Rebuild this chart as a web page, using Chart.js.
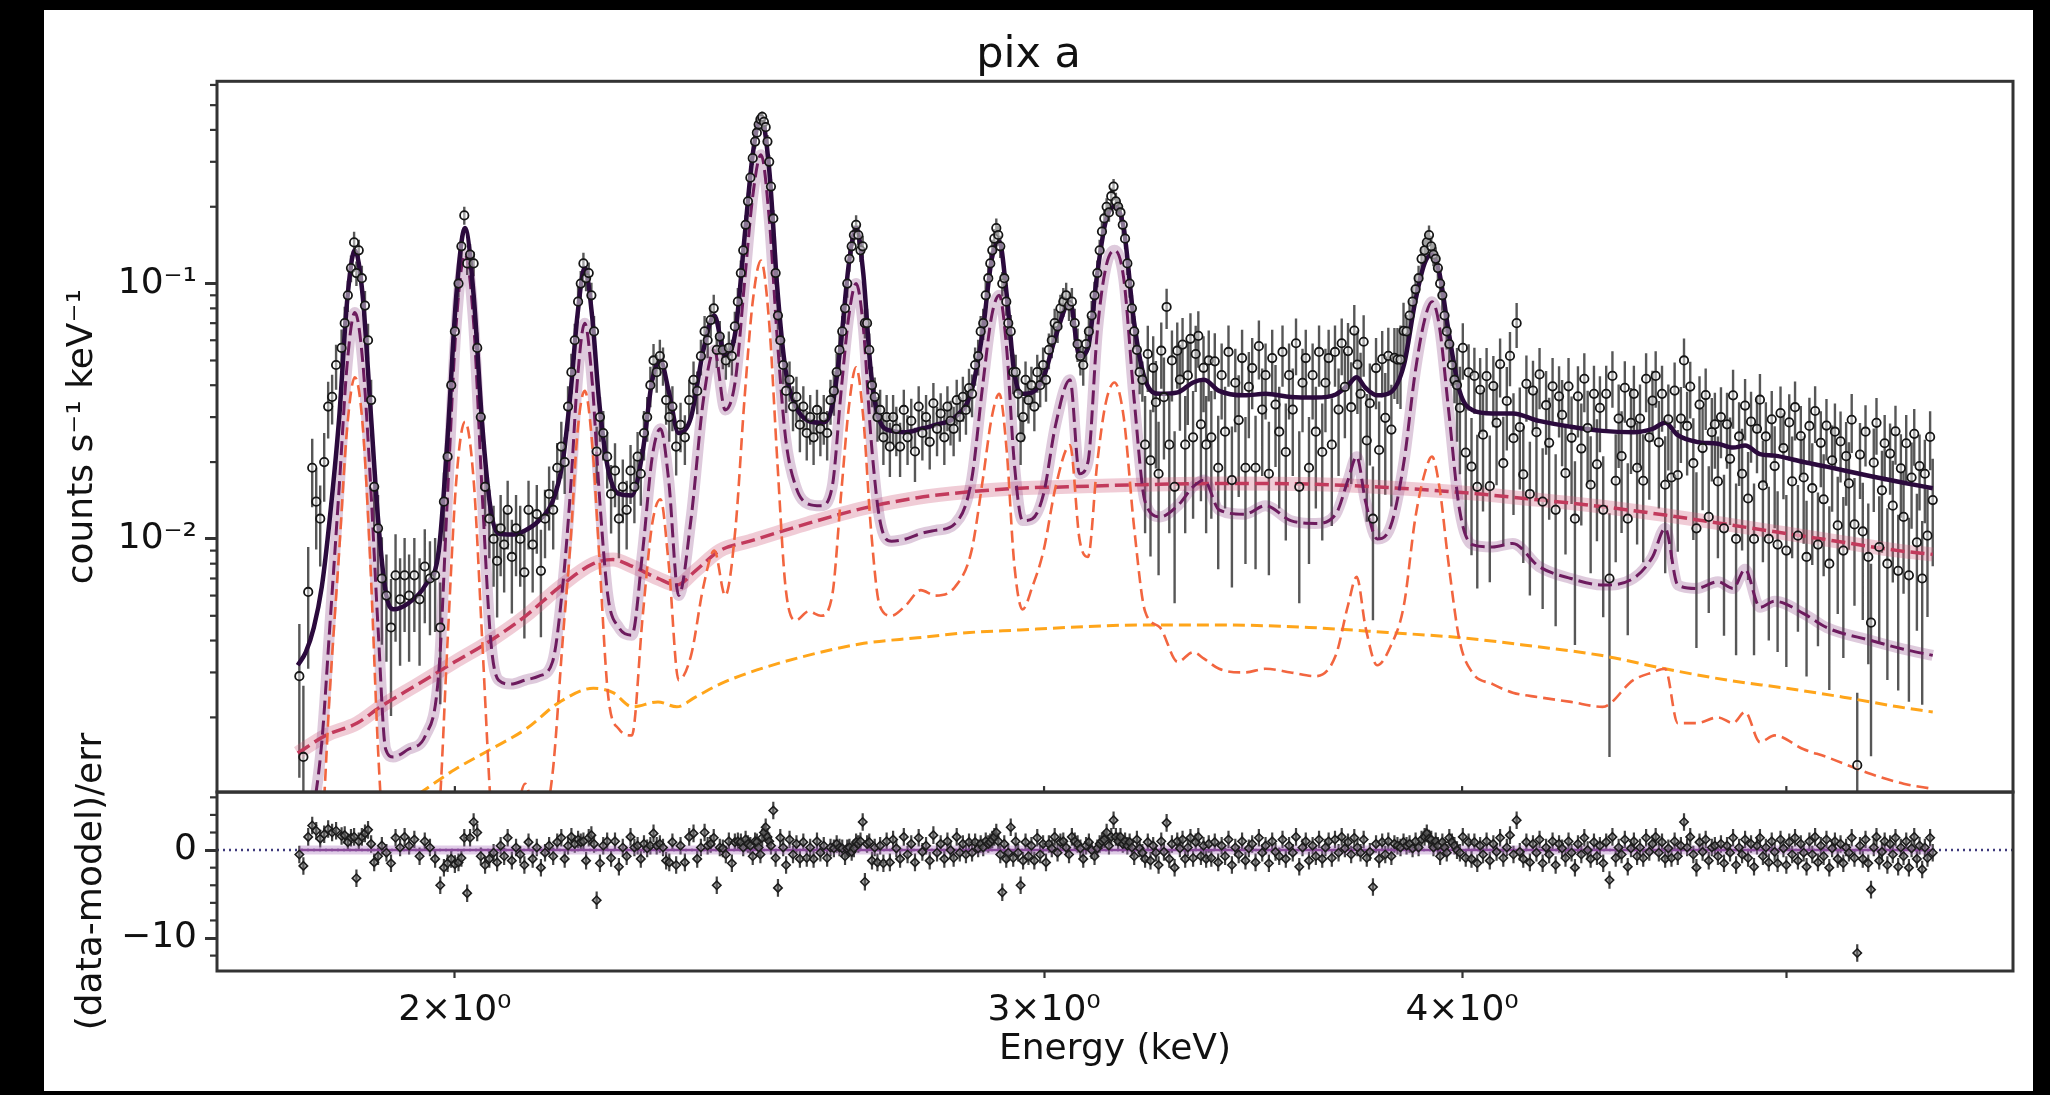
<!DOCTYPE html>
<html>
<head>
<meta charset="utf-8">
<script src="https://cdn.jsdelivr.net/npm/chart.js@4.4.1/dist/chart.umd.min.js"></script>
<style>
  html, body { margin: 0; padding: 0; background: #000; }
  body { width: 2050px; height: 1095px; position: relative; overflow: hidden; }
  #sheet { position: absolute; left: 44px; top: 10px; width: 1989px; height: 1081px; background: #fff; }
  canvas { display: block; }
</style>
</head>
<body>
<div id="sheet"><canvas id="spec" width="1989" height="1081"></canvas></div>
<script>
// axis limits (keV, counts s^-1 keV^-1, sigma)
const xMin = 1.698, xMax = 5.844;
const yMin = 0.00102, yMax = 0.62;
const resMin = -13.75, resMax = 6.6;

const xTickValues = [2, 3, 4, 5];
const xTickLabels = ['2×10⁰', '3×10⁰', '4×10⁰', ''];
const yTickValues = [0.002, 0.003, 0.004, 0.005, 0.006, 0.007, 0.008, 0.009, 0.01,
  0.02, 0.03, 0.04, 0.05, 0.06, 0.07, 0.08, 0.09, 0.1, 0.2, 0.3, 0.4, 0.5, 0.6];
const yMajorTicks = [0.01, 0.1];
const yMajorLabels = ['10⁻²', '10⁻¹'];
const resTickValues = [-12, -10, -8, -6, -4, -2, 0, 2, 4, 6];
const resMajorTicks = [-10, 0];
const resMajorLabels = ['−10', '0'];

// fitted model: total, line-rich plasma (purple), second plasma lines (orange-red)
const modelEnergy = [1.795, 1.805, 1.815, 1.825, 1.835, 1.847, 1.857, 1.867, 1.877, 1.887,
  1.897, 1.907, 1.917, 1.937, 1.960, 1.978, 1.990, 2.002, 2.014, 2.026,
  2.038, 2.050, 2.061, 2.079, 2.099, 2.119, 2.139, 2.154, 2.166, 2.176,
  2.187, 2.198, 2.209, 2.222, 2.239, 2.259, 2.276, 2.291, 2.304, 2.317,
  2.333, 2.353, 2.373, 2.391, 2.409, 2.426, 2.441, 2.455, 2.469, 2.483,
  2.497, 2.511, 2.529, 2.551, 2.573, 2.593, 2.609, 2.623, 2.636, 2.649,
  2.663, 2.679, 2.701, 2.728, 2.756, 2.784, 2.822, 2.854, 2.876, 2.894,
  2.909, 2.924, 2.939, 2.956, 2.976, 2.999, 3.024, 3.054, 3.074, 3.092,
  3.112, 3.130, 3.149, 3.169, 3.192, 3.216, 3.249, 3.289, 3.324, 3.349,
  3.384, 3.444, 3.494, 3.555, 3.616, 3.667, 3.698, 3.720, 3.743, 3.773,
  3.808, 3.843, 3.873, 3.898, 3.918, 3.938, 3.963, 3.993, 4.028, 4.085,
  4.142, 4.217, 4.311, 4.406, 4.5, 4.56, 4.6, 4.64, 4.7, 4.77,
  4.82, 4.86, 4.91, 4.96, 5.06, 5.14, 5.3, 5.42, 5.53];
const modelTotal = [0.0032, 0.0036, 0.0045, 0.0065, 0.012, 0.03, 0.085, 0.135, 0.09, 0.033,
  0.012, 0.0062, 0.0053, 0.0056, 0.0066, 0.009, 0.025, 0.09, 0.165, 0.09,
  0.028, 0.013, 0.0105, 0.0104, 0.0108, 0.0118, 0.014, 0.02, 0.038, 0.075,
  0.115, 0.075, 0.034, 0.019, 0.015, 0.0148, 0.022, 0.042, 0.05, 0.038,
  0.026, 0.03, 0.055, 0.075, 0.052, 0.065, 0.15, 0.32, 0.45, 0.28,
  0.095, 0.046, 0.033, 0.029, 0.0285, 0.033, 0.06, 0.12, 0.165, 0.11,
  0.045, 0.029, 0.0265, 0.0262, 0.027, 0.028, 0.03, 0.038, 0.065, 0.125,
  0.146, 0.09, 0.045, 0.037, 0.0375, 0.043, 0.062, 0.085, 0.052, 0.056,
  0.11, 0.175, 0.2, 0.165, 0.07, 0.042, 0.037, 0.0375, 0.041, 0.042,
  0.038, 0.0365, 0.037, 0.036, 0.0358, 0.0368, 0.04, 0.043, 0.039, 0.0365,
  0.0375, 0.048, 0.085, 0.12, 0.13, 0.11, 0.065, 0.038, 0.032, 0.031,
  0.031, 0.029, 0.0275, 0.0265, 0.0262, 0.027, 0.0285, 0.0255, 0.024, 0.0236,
  0.0228, 0.0232, 0.0215, 0.0212, 0.02, 0.0192, 0.0176, 0.0166, 0.0158];
const compPurple = [0.0006, 0.0007, 0.0009, 0.0016, 0.0045, 0.016, 0.048, 0.077, 0.05, 0.017,
  0.0045, 0.0015, 0.0014, 0.0015, 0.0017, 0.003, 0.015, 0.07, 0.13, 0.07,
  0.015, 0.004, 0.0028, 0.0027, 0.0028, 0.0029, 0.0033, 0.0065, 0.016, 0.042,
  0.07, 0.042, 0.015, 0.006, 0.0045, 0.0042, 0.009, 0.021, 0.027, 0.017,
  0.006, 0.012, 0.035, 0.055, 0.032, 0.042, 0.1, 0.22, 0.32, 0.18,
  0.06, 0.025, 0.016, 0.0137, 0.0135, 0.016, 0.038, 0.075, 0.1, 0.068,
  0.025, 0.012, 0.0098, 0.01, 0.0105, 0.0108, 0.0115, 0.017, 0.04, 0.075,
  0.09, 0.055, 0.02, 0.0118, 0.012, 0.015, 0.028, 0.042, 0.018, 0.02,
  0.065, 0.115, 0.135, 0.105, 0.035, 0.014, 0.0122, 0.0135, 0.016, 0.017,
  0.013, 0.0125, 0.0135, 0.0118, 0.0115, 0.0125, 0.017, 0.021, 0.014, 0.01,
  0.0112, 0.02, 0.045, 0.072, 0.085, 0.068, 0.032, 0.013, 0.0095, 0.0093,
  0.0096, 0.0078, 0.007, 0.0066, 0.007, 0.0085, 0.011, 0.0066, 0.0064, 0.0068,
  0.0064, 0.0076, 0.0054, 0.0057, 0.0051, 0.0045, 0.004, 0.0037, 0.0035];
const compLines = [0.0004, 0.0004, 0.0005, 0.0007, 0.0025, 0.009, 0.027, 0.043, 0.028, 0.008,
  0.0015, 0.0005, 0.0003, 0.0003, 0.0004, 0.0008, 0.004, 0.017, 0.0288, 0.017,
  0.004, 0.0009, 0.0004, 0.0006, 0.0011, 0.0007, 0.0012, 0.004, 0.01, 0.026,
  0.038, 0.024, 0.0085, 0.0025, 0.0018, 0.0017, 0.005, 0.0115, 0.0143, 0.008,
  0.0028, 0.0035, 0.0065, 0.009, 0.006, 0.011, 0.035, 0.085, 0.123, 0.07,
  0.02, 0.0065, 0.0048, 0.0052, 0.005, 0.006, 0.015, 0.033, 0.047, 0.03,
  0.011, 0.0055, 0.005, 0.0055, 0.0063, 0.006, 0.0065, 0.009, 0.017, 0.03,
  0.037, 0.022, 0.008, 0.0053, 0.0065, 0.009, 0.016, 0.0233, 0.01, 0.0085,
  0.02, 0.034, 0.041, 0.03, 0.011, 0.0052, 0.0045, 0.0033, 0.0036, 0.0034,
  0.0031, 0.003, 0.0031, 0.003, 0.0029, 0.0035, 0.0055, 0.0071, 0.0045, 0.0032,
  0.0038, 0.0055, 0.012, 0.018, 0.021, 0.016, 0.008, 0.004, 0.003, 0.0027,
  0.0025, 0.0024, 0.0023, 0.0022, 0.0028, 0.003, 0.0031, 0.0019, 0.0019, 0.002,
  0.0019, 0.0021, 0.0016, 0.0017, 0.0015, 0.0014, 0.0012, 0.0011, 0.00105];

// smooth continuum components
const contEnergy = [1.795, 1.83, 1.87, 1.9, 1.95, 2.0, 2.05, 2.1, 2.15, 2.2,
  2.23, 2.26, 2.3, 2.33, 2.36, 2.4, 2.45, 2.55, 2.65, 2.75,
  2.85, 2.95, 3.05, 3.2, 3.4, 3.6, 3.8, 4.0, 4.2, 4.4,
  4.6, 4.8, 5.0, 5.2, 5.4, 5.53];
const compRed = [0.00145, 0.0017, 0.0019, 0.0022, 0.0027, 0.0033, 0.004, 0.005, 0.0065, 0.008,
  0.0083, 0.0078, 0.007, 0.0066, 0.0075, 0.009, 0.0098, 0.0115, 0.0132, 0.0145,
  0.0153, 0.0158, 0.016, 0.0163, 0.0165, 0.0164, 0.0159, 0.0152, 0.0143, 0.0134,
  0.0124, 0.0114, 0.0105, 0.0097, 0.009, 0.0087];
const compGold = [0.0005, 0.0006, 0.0007, 0.0008, 0.001, 0.00125, 0.0015, 0.0018, 0.0023, 0.0026,
  0.0025, 0.0022, 0.0023, 0.0022, 0.0024, 0.0027, 0.003, 0.0035, 0.0039, 0.0041,
  0.0043, 0.0044, 0.0045, 0.0046, 0.0046, 0.0045, 0.0043, 0.0041, 0.0038, 0.0035,
  0.0031, 0.0028, 0.0026, 0.0024, 0.0022, 0.0021];

// observed spectrum
const dataEnergy = [
  1.797, 1.802, 1.808, 1.813, 1.818, 1.823, 1.828, 1.833, 1.838, 1.843, 1.850, 1.854, 1.858, 1.862, 1.866, 1.869, 1.872, 1.876, 1.880, 1.884, 1.888, 1.892, 1.897, 1.902,
  1.908, 1.914, 1.920, 1.926, 1.932, 1.938, 1.945, 1.952, 1.959, 1.966, 1.973, 1.980, 1.985, 1.990, 1.995, 2.000, 2.005, 2.009, 2.013, 2.017, 2.021, 2.026, 2.031, 2.036, 2.042, 2.048, 2.054,
  2.059, 2.064, 2.069, 2.074, 2.080, 2.086, 2.092, 2.098, 2.104, 2.110, 2.116, 2.122, 2.128, 2.134, 2.140, 2.146, 2.152, 2.157, 2.162, 2.167, 2.172, 2.177, 2.181, 2.185, 2.189, 2.193, 2.197, 2.201, 2.205,
  2.210, 2.215, 2.221, 2.227, 2.233, 2.239, 2.245, 2.251, 2.257, 2.263, 2.268, 2.273, 2.278, 2.283, 2.288, 2.293, 2.298, 2.303, 2.308, 2.313, 2.318, 2.323, 2.329, 2.336, 2.343, 2.350, 2.357, 2.363, 2.369, 2.375, 2.380, 2.385, 2.390, 2.395, 2.400, 2.405, 2.410, 2.415,
  2.420, 2.425, 2.430, 2.435, 2.439, 2.443, 2.447, 2.451, 2.455, 2.459, 2.462, 2.465, 2.468, 2.471, 2.474, 2.477, 2.480, 2.483, 2.486, 2.490, 2.494, 2.498, 2.502, 2.507, 2.512,
  2.518, 2.524, 2.530, 2.536, 2.542, 2.548, 2.554, 2.560, 2.566, 2.572, 2.578, 2.584, 2.590, 2.596, 2.601, 2.606, 2.611, 2.616, 2.620, 2.624, 2.628, 2.632, 2.636, 2.640, 2.644, 2.648, 2.652, 2.656, 2.660, 2.665, 2.670, 2.675, 2.680,
  2.686, 2.692, 2.698, 2.704, 2.710, 2.717, 2.724, 2.731, 2.738, 2.745, 2.752, 2.759, 2.766, 2.773, 2.780, 2.787, 2.794, 2.801, 2.807, 2.813, 2.819, 2.825, 2.831, 2.837, 2.843, 2.849, 2.855,
  2.861, 2.867, 2.872, 2.877, 2.882, 2.887, 2.891, 2.895, 2.899, 2.903, 2.907, 2.911, 2.915, 2.919, 2.923, 2.927, 2.932, 2.937, 2.942, 2.947, 2.952, 2.957, 2.962, 2.968, 2.974, 2.980, 2.986, 2.992, 2.998, 3.004, 3.010,
  3.016, 3.022, 3.028, 3.034, 3.040, 3.046, 3.052, 3.058, 3.064, 3.070, 3.076, 3.082, 3.088, 3.094, 3.100, 3.106, 3.112, 3.117, 3.122, 3.127, 3.132, 3.137, 3.142, 3.147, 3.152, 3.157, 3.162, 3.167, 3.172, 3.177, 3.182, 3.187, 3.192, 3.198, 3.204, 3.210,
  3.216, 3.222, 3.228, 3.234, 3.240, 3.246, 3.252, 3.258, 3.264, 3.270, 3.276, 3.282, 3.288, 3.294, 3.300, 3.306, 3.312, 3.318, 3.324, 3.330, 3.336, 3.342, 3.348, 3.354, 3.360, 3.366,
  3.374, 3.382, 3.390, 3.398, 3.406, 3.414, 3.422, 3.430, 3.438, 3.446, 3.454, 3.462, 3.470, 3.478, 3.486, 3.494, 3.502, 3.510, 3.518, 3.527,
  3.535, 3.543, 3.551, 3.560, 3.568, 3.576, 3.584, 3.592, 3.600, 3.609, 3.617, 3.625, 3.633, 3.641, 3.649, 3.657, 3.665, 3.674, 3.682, 3.690,
  3.698, 3.706, 3.714, 3.722, 3.730, 3.738, 3.746, 3.754, 3.762, 3.770, 3.778, 3.786, 3.794, 3.802, 3.810, 3.818, 3.826, 3.834, 3.842,
  3.850, 3.858, 3.866, 3.874, 3.882, 3.890, 3.898, 3.904, 3.910, 3.916, 3.922, 3.928, 3.934, 3.940, 3.946, 3.952, 3.958, 3.965, 3.972, 3.979,
  3.986, 3.994, 4.002, 4.010, 4.018, 4.026, 4.034, 4.042, 4.050, 4.058,
  4.068, 4.077, 4.087, 4.096, 4.106, 4.115, 4.125, 4.134, 4.144, 4.153,
  4.162, 4.172, 4.181, 4.191, 4.200, 4.210, 4.219, 4.228, 4.238, 4.247,
  4.257, 4.266, 4.276, 4.285, 4.295, 4.304, 4.313, 4.323, 4.332, 4.342,
  4.351, 4.361, 4.370, 4.380, 4.389, 4.398, 4.408, 4.417, 4.427, 4.436,
  4.446, 4.455, 4.464, 4.474, 4.483, 4.493, 4.502, 4.512, 4.521, 4.531,
  4.54, 4.55, 4.56, 4.57, 4.58, 4.59, 4.60, 4.61, 4.62, 4.63,
  4.64, 4.65, 4.66, 4.67, 4.68, 4.69, 4.70, 4.71, 4.72, 4.73,
  4.74, 4.75, 4.76, 4.77, 4.78, 4.79, 4.80, 4.81, 4.82, 4.83,
  4.84, 4.85, 4.86, 4.87, 4.88, 4.89, 4.90, 4.91, 4.92, 4.93,
  4.94, 4.95, 4.96, 4.97, 4.98, 4.99, 5.00, 5.01, 5.02, 5.03,
  5.04, 5.05, 5.06, 5.07, 5.08, 5.09, 5.10, 5.11, 5.12, 5.13,
  5.14, 5.15, 5.16, 5.17, 5.18, 5.19, 5.20, 5.21, 5.22, 5.23,
  5.24, 5.25, 5.26, 5.27, 5.28, 5.29, 5.30, 5.31, 5.32, 5.33,
  5.34, 5.35, 5.36, 5.37, 5.38, 5.39, 5.40, 5.41, 5.42, 5.43,
  5.44, 5.45, 5.46, 5.47, 5.48, 5.49, 5.50, 5.51, 5.52, 5.53];
const dataCounts = [
  0.0029, 0.0014, 0.0062, 0.019, 0.014, 0.012, 0.02, 0.033, 0.036, 0.048, 0.056, 0.07, 0.09, 0.115, 0.145, 0.11, 0.135, 0.105, 0.082, 0.06, 0.035, 0.016, 0.011, 0.007,
  0.006, 0.0045, 0.0072, 0.0058, 0.0072, 0.006, 0.0072, 0.0058, 0.0078, 0.007, 0.0072, 0.0045, 0.014, 0.021, 0.04, 0.065, 0.1, 0.14, 0.185, 0.12, 0.13, 0.12, 0.056, 0.03, 0.016, 0.012, 0.01,
  0.0082, 0.011, 0.0095, 0.013, 0.0085, 0.011, 0.01, 0.0074, 0.013, 0.0095, 0.0125, 0.0075, 0.012, 0.015, 0.013, 0.019, 0.023, 0.02, 0.033, 0.045, 0.06, 0.085, 0.1, 0.12, 0.105, 0.11, 0.09, 0.065, 0.022,
  0.03, 0.026, 0.021, 0.015, 0.0185, 0.012, 0.016, 0.013, 0.0185, 0.016, 0.021, 0.018, 0.026, 0.03, 0.04, 0.05, 0.045, 0.052, 0.048, 0.035, 0.03, 0.033, 0.023, 0.028, 0.025, 0.035, 0.042, 0.038, 0.052, 0.065, 0.06, 0.072, 0.08, 0.055, 0.062, 0.055, 0.05, 0.056,
  0.052, 0.068, 0.085, 0.11, 0.135, 0.17, 0.21, 0.26, 0.31, 0.36, 0.39, 0.42, 0.44, 0.45, 0.43, 0.41, 0.36, 0.3, 0.24, 0.18, 0.11, 0.075, 0.06, 0.048, 0.038,
  0.042, 0.033, 0.036, 0.028, 0.033, 0.026, 0.03, 0.025, 0.032, 0.027, 0.03, 0.026, 0.035, 0.038, 0.045, 0.055, 0.065, 0.08, 0.1, 0.125, 0.14, 0.155, 0.17, 0.155, 0.135, 0.14, 0.07, 0.07, 0.055, 0.04, 0.036, 0.03, 0.032,
  0.025, 0.03, 0.023, 0.03, 0.027, 0.023, 0.032, 0.025, 0.029, 0.022, 0.033, 0.026, 0.03, 0.024, 0.034, 0.027, 0.031, 0.025, 0.033, 0.029, 0.027, 0.035, 0.03, 0.036, 0.032, 0.039, 0.037,
  0.048, 0.052, 0.065, 0.07, 0.09, 0.105, 0.12, 0.135, 0.15, 0.165, 0.155, 0.14, 0.1, 0.105, 0.085, 0.07, 0.065, 0.045, 0.045, 0.037, 0.025, 0.03, 0.042, 0.035, 0.04, 0.033, 0.045, 0.04, 0.048, 0.042, 0.055,
  0.06, 0.07, 0.068, 0.08, 0.085, 0.09, 0.082, 0.085, 0.07, 0.058, 0.052, 0.048, 0.058, 0.065, 0.075, 0.09, 0.11, 0.135, 0.16, 0.18, 0.2, 0.19, 0.22, 0.24, 0.21, 0.2, 0.19, 0.17, 0.15, 0.12, 0.1, 0.08, 0.065, 0.055, 0.045, 0.042,
  0.0234, 0.053, 0.0203, 0.0468, 0.0343, 0.018, 0.0546, 0.0359, 0.081, 0.0234, 0.05, 0.016, 0.0546, 0.0421, 0.0577, 0.0234, 0.0437, 0.0608, 0.025, 0.053, 0.0624, 0.0281, 0.0468, 0.0234, 0.05, 0.025,
  0.0496, 0.019, 0.0438, 0.0263, 0.054, 0.017, 0.0409, 0.0292, 0.0511, 0.019, 0.0394, 0.0467, 0.019, 0.0569, 0.0321, 0.0438, 0.018, 0.0511, 0.0336, 0.0263,
  0.054, 0.0219, 0.0438, 0.0321, 0.0584, 0.016, 0.0409, 0.0511, 0.019, 0.0438, 0.0263, 0.054, 0.0219, 0.0409, 0.0511, 0.0234, 0.054, 0.0321, 0.0584, 0.0394,
  0.0544, 0.0328, 0.0655, 0.0482, 0.037, 0.0592, 0.0243, 0.034, 0.012, 0.0467, 0.0223, 0.0506, 0.0298, 0.0521, 0.0268, 0.0512, 0.0504, 0.0504, 0.0653,
  0.065, 0.075, 0.085, 0.095, 0.105, 0.125, 0.135, 0.145, 0.155, 0.14, 0.13, 0.125, 0.115, 0.1, 0.09, 0.075, 0.065, 0.058, 0.048, 0.042,
  0.04, 0.0326, 0.056, 0.0218, 0.0449, 0.0192, 0.0435, 0.016, 0.0384, 0.0256,
  0.0434, 0.0161, 0.0397, 0.0285, 0.0484, 0.0198, 0.0347, 0.0521, 0.0248, 0.07,
  0.0274, 0.0179, 0.0405, 0.015, 0.0381, 0.0262, 0.0441, 0.014, 0.0334, 0.0238,
  0.0396, 0.013, 0.0362, 0.0306, 0.0181, 0.0396, 0.0249, 0.012, 0.0362, 0.0226,
  0.0424, 0.0272, 0.0163, 0.037, 0.0196, 0.0326, 0.013, 0.037, 0.007, 0.0435,
  0.0169, 0.0296, 0.0211, 0.0391, 0.012, 0.0285, 0.037, 0.019, 0.0296, 0.0169,
  0.0424, 0.025, 0.0348, 0.0435, 0.0239, 0.037, 0.0163, 0.0294, 0.0174, 0.0381,
  0.0178, 0.0296, 0.05, 0.0277, 0.0395, 0.0198, 0.011, 0.0336, 0.0227, 0.0366,
  0.0122, 0.0262, 0.0281, 0.0168, 0.03, 0.011, 0.0281, 0.0206, 0.0365, 0.010,
  0.0252, 0.018, 0.0333, 0.0144, 0.0288, 0.010, 0.027, 0.0351, 0.0162, 0.0252,
  0.010, 0.0294, 0.0193, 0.0095, 0.0311, 0.0227, 0.009, 0.0286, 0.0168, 0.0328,
  0.0103, 0.0253, 0.0174, 0.0085, 0.0277, 0.0158, 0.0317, 0.0095, 0.0238, 0.0143,
  0.0278, 0.008, 0.0203, 0.0263, 0.0113, 0.0241, 0.009, 0.0211, 0.0165, 0.0293,
  0.0114, 0.0013, 0.0214, 0.0107, 0.0263, 0.0085, 0.0047, 0.0199, 0.0285, 0.0093,
  0.0155, 0.0237, 0.008, 0.0216, 0.0135, 0.0264, 0.0075, 0.0189, 0.0122, 0.0237,
  0.0072, 0.0174, 0.0258, 0.0097, 0.0193, 0.007, 0.018, 0.0103, 0.0251, 0.0142];
// fractional 1-sigma error of each bin
const dataErr = [
  0.6, 0.9, 0.5, 0.3, 0.35, 0.35, 0.3, 0.25, 0.22, 0.2, 0.18, 0.16, 0.14, 0.12, 0.1, 0.11, 0.1, 0.12, 0.14, 0.16, 0.2, 0.3, 0.35, 0.45,
  0.45, 0.55, 0.45, 0.45, 0.4, 0.45, 0.4, 0.45, 0.4, 0.4, 0.4, 0.5, 0.3, 0.25, 0.2, 0.16, 0.12, 0.1, 0.08, 0.1, 0.1, 0.11, 0.15, 0.2, 0.3, 0.3, 0.35,
  0.4, 0.35, 0.35, 0.3, 0.4, 0.35, 0.35, 0.45, 0.3, 0.35, 0.3, 0.45, 0.3, 0.28, 0.3, 0.25, 0.25, 0.25, 0.2, 0.18, 0.16, 0.14, 0.12, 0.1, 0.11, 0.1, 0.12, 0.15, 0.25,
  0.2, 0.22, 0.25, 0.3, 0.28, 0.3, 0.28, 0.3, 0.26, 0.28, 0.25, 0.25, 0.22, 0.2, 0.18, 0.16, 0.17, 0.16, 0.17, 0.2, 0.2, 0.2, 0.23, 0.22, 0.22, 0.2, 0.18, 0.19, 0.16, 0.15, 0.15, 0.14, 0.13, 0.15, 0.15, 0.16, 0.16, 0.16,
  0.16, 0.14, 0.13, 0.12, 0.1, 0.09, 0.08, 0.07, 0.06, 0.06, 0.05, 0.05, 0.05, 0.05, 0.05, 0.05, 0.06, 0.06, 0.07, 0.08, 0.1, 0.12, 0.14, 0.16, 0.18,
  0.18, 0.2, 0.2, 0.22, 0.2, 0.22, 0.22, 0.22, 0.2, 0.22, 0.22, 0.22, 0.2, 0.2, 0.18, 0.16, 0.15, 0.13, 0.12, 0.11, 0.1, 0.09, 0.09, 0.09, 0.1, 0.1, 0.13, 0.14, 0.16, 0.18, 0.19, 0.2, 0.2,
  0.22, 0.22, 0.24, 0.22, 0.22, 0.24, 0.2, 0.22, 0.22, 0.24, 0.2, 0.22, 0.22, 0.22, 0.2, 0.22, 0.2, 0.22, 0.2, 0.2, 0.22, 0.2, 0.2, 0.2, 0.2, 0.19, 0.19,
  0.17, 0.16, 0.15, 0.14, 0.13, 0.12, 0.11, 0.1, 0.09, 0.09, 0.09, 0.1, 0.11, 0.11, 0.12, 0.14, 0.16, 0.18, 0.17, 0.19, 0.22, 0.2, 0.18, 0.19, 0.18, 0.2, 0.17, 0.18, 0.17, 0.18, 0.16,
  0.15, 0.14, 0.14, 0.13, 0.13, 0.12, 0.13, 0.13, 0.14, 0.15, 0.16, 0.17, 0.15, 0.15, 0.14, 0.13, 0.12, 0.1, 0.09, 0.09, 0.08, 0.08, 0.08, 0.07, 0.08, 0.08, 0.08, 0.09, 0.09, 0.1, 0.12, 0.13, 0.15, 0.16, 0.18, 0.18,
  0.55, 0.29, 0.58, 0.33, 0.45, 0.6, 0.29, 0.43, 0.18, 0.55, 0.31, 0.65, 0.29, 0.37, 0.27, 0.55, 0.36, 0.26, 0.52, 0.29, 0.25, 0.5, 0.33, 0.55, 0.31, 0.52,
  0.29, 0.6, 0.33, 0.5, 0.27, 0.62, 0.36, 0.5, 0.29, 0.58, 0.37, 0.31, 0.6, 0.26, 0.45, 0.33, 0.6, 0.29, 0.43, 0.5,
  0.27, 0.55, 0.33, 0.45, 0.25, 0.65, 0.36, 0.29, 0.58, 0.33, 0.5, 0.27, 0.55, 0.36, 0.29, 0.52, 0.27, 0.45, 0.25, 0.37,
  0.29, 0.5, 0.26, 0.36, 0.45, 0.27, 0.52, 0.43, 0.6, 0.31, 0.55, 0.29, 0.5, 0.29, 0.5, 0.31, 0.33, 0.36, 0.29,
  0.16, 0.15, 0.14, 0.13, 0.12, 0.11, 0.1, 0.1, 0.09, 0.1, 0.1, 0.11, 0.11, 0.12, 0.13, 0.14, 0.15, 0.16, 0.17, 0.19,
  0.4, 0.45, 0.25, 0.52, 0.29, 0.55, 0.29, 0.6, 0.33, 0.5,
  0.29, 0.58, 0.31, 0.43, 0.26, 0.52, 0.36, 0.24, 0.5, 0.2,
  0.43, 0.55, 0.29, 0.6, 0.31, 0.45, 0.27, 0.62, 0.36, 0.5,
  0.29, 0.65, 0.31, 0.37, 0.52, 0.29, 0.45, 0.68, 0.31, 0.5,
  0.26, 0.4, 0.55, 0.29, 0.5, 0.33, 0.62, 0.29, 0.8, 0.25,
  0.52, 0.36, 0.5, 0.27, 0.65, 0.37, 0.29, 0.5, 0.36, 0.52,
  0.26, 0.43, 0.31, 0.25, 0.45, 0.29, 0.55, 0.37, 0.52, 0.29,
  0.5, 0.33, 0.22, 0.36, 0.25, 0.5, 0.66, 0.29, 0.43, 0.27,
  0.58, 0.36, 0.33, 0.5, 0.31, 0.62, 0.33, 0.45, 0.26, 0.65,
  0.36, 0.5, 0.27, 0.52, 0.31, 0.65, 0.33, 0.26, 0.5, 0.36,
  0.6, 0.29, 0.43, 0.62, 0.27, 0.37, 0.65, 0.29, 0.5, 0.26,
  0.58, 0.31, 0.45, 0.66, 0.29, 0.5, 0.25, 0.6, 0.33, 0.5,
  0.27, 0.68, 0.37, 0.29, 0.55, 0.31, 0.62, 0.36, 0.45, 0.26,
  0.52, 0.92, 0.33, 0.55, 0.27, 0.62, 0.7, 0.36, 0.25, 0.58,
  0.43, 0.29, 0.65, 0.31, 0.5, 0.26, 0.66, 0.36, 0.5, 0.29,
  0.68, 0.37, 0.25, 0.55, 0.33, 0.68, 0.36, 0.52, 0.26, 0.45];
// residuals (data-model)/err
const residValues = [
  -0.5, -1.8, 1.5, 2.8, 2.2, 1.3, 1.8, 2.4, 2.0, 2.2, 1.6, 1.7, 0.9, 1.4, 1.5, -3.2, 1.0, 1.5, 1.9, 2.3, 0.7, -1.4, -0.7, 0.5,
  -0.3, -1.5, 1.4, 0.3, 1.5, 0.5, 1.2, -0.7, 1.0, 0.3, -1.0, -4.0, -2.0, -1.5, -1.0, -1.6, -1.4, -0.9, 1.4, -4.9, 1.4, 3.2, 2.0, -0.7, -1.7, -1.0, -0.3,
  -1.4, 0.5, -0.7, 1.4, -1.2, 0.3, -0.5, -1.7, 0.9, -1.0, 0.3, -2.0, -0.3, 0.5, -0.7, 0.9, 1.4, -1.0, 0.5, 1.5, 0.7, 1.2, 0.9, 1.0, -1.2, 1.4, 1.7, 0.7, -5.7,
  -1.5, 0.5, 1.0, -0.9, 1.0, -1.9, 0.3, -0.7, 1.5, 0.3, 0.5, -1.0, 0.7, 0.2, 0.5, 1.9, 0.5, 0.7, 0.3, -1.2, -1.4, 0.9, -1.7, 0.5, -1.4, 1.5, 1.9, -1.0, 0.3, 2.0, 0.5, 0.7, 1.4, -4.0, 0.3, 0.2, -0.5, 1.0,
  -1.5, 0.9, 1.0, 0.9, 0.3, 1.2, 0.7, 0.5, -0.7, 1.0, 0.9, 0.3, -0.5, 1.4, 2.0, 2.6, 1.5, 1.0, 0.5, 4.5, -0.9, -4.3, 1.4, 0.3, -1.7,
  1.2, -0.5, 0.7, -1.0, 0.9, -0.9, 0.3, -1.0, 1.0, -0.3, 0.5, -0.9, 0.3, 0.2, 0.7, 0.3, 0.2, -0.7, 0.2, 0.3, -0.2, 0.2, 0.9, 0.7, 1.0, 3.2, -3.6, 0.7, 0.9, -1.2, 0.3, -1.4, 0.5,
  -1.5, 1.0, -1.4, 1.2, 0.2, -1.0, 1.5, -0.5, 0.7, -1.4, 1.4, -0.2, 0.5, -1.2, 1.7, -0.3, 0.7, -1.0, 1.0, 0.0, -0.9, 1.5, -0.3, 0.7, -0.5, 0.9, -0.3,
  0.9, 0.2, 0.7, 0.3, 1.0, 0.7, 0.9, 1.2, 1.5, 2.0, 1.0, -0.5, -4.8, 0.7, -1.0, -0.3, 2.6, -0.9, 1.0, -0.3, -4.0, -1.2, 0.9, -0.7, 0.5, -1.2, 1.4, -0.5, 0.7, -1.4, 0.7,
  0.2, 1.5, -0.3, 0.9, 1.0, 0.3, -0.5, 1.5, 1.0, 0.7, 0.2, -1.0, 0.5, 0.9, 0.0, -0.7, 0.2, 0.7, 1.0, 1.2, 2.0, 0.5, 1.5, 3.4, 1.5, 1.0, 1.5, 0.7, 1.0, 0.5, 0.9, 0.3, -0.7, 1.2, 0.2, -0.3,
  -1.0, 0.9, -1.2, 0.5, -0.3, -1.7, 1.0, -0.2, 3.1, -1.0, 0.7, -2.0, 1.0, 0.2, 1.2, -1.0, 0.3, 1.4, -0.9, 0.9, 1.5, -0.7, 0.5, -1.0, 0.7, -0.9,
  0.9, -1.4, 0.5, -0.7, 1.2, -1.7, 0.3, -0.5, 1.0, -1.2, 0.2, 0.7, -1.4, 1.4, -0.3, 0.5, -1.5, 1.0, -0.2, -0.7,
  1.2, -1.0, 0.5, -0.3, 1.5, -1.9, 0.3, 1.0, -1.2, 0.5, -0.7, 1.2, -1.0, 0.3, 1.0, -0.9, 1.2, -0.3, 1.5, 0.2,
  0.9, -0.5, 1.4, 0.3, -0.3, 1.2, -0.9, -0.2, -4.2, 0.7, -1.0, 0.9, -0.5, 1.0, -0.7, 0.7, 0.5, 0.3, 0.9,
  0.5, 0.7, 0.2, 1.0, 0.3, 1.2, 1.5, 1.9, 1.3, 1.2, 0.3, 1.0, 0.5, -0.7, 0.9, 0.3, -0.3, 1.4, 0.9, 0.5,
  0.0, -0.3, 1.5, -0.9, 0.9, -1.0, 0.9, -1.5, 0.5, -0.5,
  1.0, -1.2, 0.7, -0.2, 1.4, -0.9, 0.3, 1.7, -0.5, 3.4,
  -0.2, -1.0, 0.9, -1.4, 0.7, -0.3, 1.2, -1.5, 0.3, -0.5,
  1.0, -1.7, 0.7, 0.2, -0.9, 1.0, -0.3, -2.0, 0.7, -0.5,
  1.4, 0.0, -1.0, 0.9, -0.7, 0.5, -1.5, 0.9, -3.4, 1.5,
  -0.9, 0.3, -0.5, 1.2, -1.9, 0.2, 1.0, -0.7, 0.3, -0.9,
  1.4, -0.2, 0.7, 1.5, -0.3, 0.9, -1.0, 0.2, -0.9, 1.0,
  -0.7, 0.5, 3.2, 0.3, 1.5, -0.5, -2.0, 0.9, -0.2, 1.2,
  -1.2, 0.3, 0.5, -0.7, 0.7, -1.5, 0.5, -0.3, 1.4, -1.7,
  0.3, -0.5, 1.2, -0.9, 0.7, -1.9, 0.5, 1.4, -0.7, 0.3,
  -1.4, 1.0, -0.2, -1.5, 1.2, 0.2, -1.7, 0.9, -0.5, 1.4,
  -1.2, 0.7, -0.3, -1.9, 1.0, -0.5, 1.5, -1.4, 0.5, -0.7,
  1.2, -2.0, 0.2, 1.0, -1.0, 0.7, -1.5, 0.3, -0.3, 1.4,
  -0.9, -11.7, 0.5, -1.0, 1.2, -1.5, -4.5, 0.3, 1.5, -1.2,
  -0.2, 1.0, -1.7, 0.7, -0.5, 1.4, -1.9, 0.3, -0.7, 1.0,
  -2.0, 0.2, 1.5, -1.0, 0.5, -2.2, 0.3, -0.9, 1.4, -0.3];

Chart.defaults.font.family = "'DejaVu Sans', 'Liberation Sans', sans-serif";
Chart.defaults.color = '#111';

const toPoints = (xs, ys) => xs.map((x, i) => ({ x: x, y: ys[i] }));

const nData = Math.min(dataEnergy.length, dataCounts.length, dataErr.length, residValues.length);
const dataPts = [], errBars = [], resPts = [], resBars = [];
for (let i = 0; i < nData; i++) {
  const e = dataEnergy[i], c = dataCounts[i], f = dataErr[i], r = residValues[i];
  dataPts.push({ x: e, y: c });
  errBars.push({ x: e, y: Math.max(c * (1 - f), 1e-5) }, { x: e, y: c * (1 + f) }, { x: e, y: null });
  resPts.push({ x: e, y: r });
  resBars.push({ x: e, y: r - 1 }, { x: e, y: r + 1 }, { x: e, y: null });
}
const resModel = [{ x: dataEnergy[0], y: 0 }, { x: dataEnergy[nData - 1], y: 0 }];
const zeroLine = [{ x: xMin, y: 0 }, { x: xMax, y: 0 }];

function curve(label, pts, axis, color, width, dash, order) {
  return {
    label: label, data: pts, yAxisID: axis, xAxisID: 'x',
    borderColor: color, borderWidth: width, borderDash: dash || [],
    pointRadius: 0, fill: false, cubicInterpolationMode: 'monotone', order: order
  };
}
function bars(label, pts, axis, color, width, order) {
  return {
    label: label, data: pts, yAxisID: axis, xAxisID: 'x',
    borderColor: color, borderWidth: width, pointRadius: 0, fill: false,
    spanGaps: false, tension: 0, order: order
  };
}

const datasets = [
  {
    label: 'data', data: dataPts, yAxisID: 'y', xAxisID: 'x', showLine: false, order: 0,
    pointRadius: 4.2, pointStyle: 'circle', pointBorderWidth: 1.8,
    pointBorderColor: '#161616', pointBackgroundColor: 'rgba(255,255,255,0.45)'
  },
  curve('total', toPoints(modelEnergy, modelTotal), 'y', '#2b0a3d', 4.5, null, 1),
  curve('lines2', toPoints(modelEnergy, compLines), 'y', '#f2653f', 2.6, [12, 6], 2),
  curve('gold', toPoints(contEnergy, compGold), 'y', '#ffa51a', 3, [12, 6], 2),
  curve('plasma', toPoints(modelEnergy, compPurple), 'y', '#6d1b5e', 3, [14, 6], 3),
  curve('cont', toPoints(contEnergy, compRed), 'y', '#c23a5c', 3.5, [14, 6], 3),
  curve('plasmaBand', toPoints(modelEnergy, compPurple), 'y', 'rgba(125,45,115,0.25)', 11, null, 4),
  curve('contBand', toPoints(contEnergy, compRed), 'y', 'rgba(205,85,120,0.3)', 14, null, 4),
  bars('err', errBars, 'y', 'rgba(58,58,58,0.85)', 2.4, 6),
  {
    label: 'resid', data: resPts, yAxisID: 'yRes', xAxisID: 'x', showLine: false, order: 0,
    pointRadius: 4.2, pointStyle: 'rectRot', pointBorderWidth: 1.6,
    pointBorderColor: '#1c1c1c', pointBackgroundColor: 'rgba(110,110,110,0.55)'
  },
  bars('residErr', resBars, 'yRes', 'rgba(45,45,45,0.9)', 2.2, 6),
  curve('residModel', resModel, 'yRes', '#8a4a9a', 2.5, null, 2),
  curve('residBand', resModel, 'yRes', 'rgba(165,110,185,0.35)', 9, null, 4),
  curve('zero', zeroLine, 'yRes', '#3f3a7c', 2.5, [2, 4], 5)
];

// frame, minor ticks and the short ticks on the panel split
const framePlugin = {
  id: 'frame',
  afterDraw(chart) {
    const { ctx } = chart;
    const x = chart.scales.x, y = chart.scales.y, r = chart.scales.yRes;
    const seg = (x0, y0, x1, y1) => { ctx.beginPath(); ctx.moveTo(x0, y0); ctx.lineTo(x1, y1); ctx.stroke(); };
    ctx.save();
    ctx.strokeStyle = '#333';
    ctx.lineWidth = 2.2;
    yTickValues.forEach(v => {
      if (yMajorTicks.includes(v)) return;
      const p = y.getPixelForValue(v);
      seg(x.left - 7, p, x.left, p);
    });
    resTickValues.forEach(v => {
      if (resMajorTicks.includes(v)) return;
      const p = r.getPixelForValue(v);
      seg(x.left - 7, p, x.left, p);
    });
    xTickValues.forEach(v => {
      const p = x.getPixelForValue(v);
      seg(p, y.bottom, p, y.bottom - 6);
    });
    ctx.lineWidth = 3;
    ctx.strokeRect(x.left, y.top, x.right - x.left, y.bottom - y.top);
    ctx.strokeRect(x.left, r.top, x.right - x.left, r.bottom - r.top);
    ctx.restore();
  }
};

const tickFont = { size: 36 };

new Chart(document.getElementById('spec').getContext('2d'), {
  type: 'line',
  data: { datasets: datasets },
  options: {
    responsive: false,
    animation: false,
    devicePixelRatio: 1,
    events: [],
    layout: { padding: { left: 0, right: 20, top: 0, bottom: 0 } },
    plugins: {
      legend: { display: false },
      tooltip: { enabled: false },
      title: {
        display: true, text: 'pix a', color: '#111',
        font: { size: 43, weight: 'normal', lineHeight: 1.1 },
        padding: { top: 22, bottom: 2 }
      }
    },
    scales: {
      x: {
        type: 'logarithmic', position: 'bottom', min: xMin, max: xMax,
        afterFit: s => { s.height = 120; },
        afterBuildTicks: s => { s.ticks = xTickValues.map(v => ({ value: v })); },
        border: { display: false },
        grid: { drawOnChartArea: false, drawTicks: true, tickLength: 7, tickWidth: 2.2, tickColor: '#333' },
        ticks: {
          autoSkip: false, maxRotation: 0, padding: 11, font: tickFont, color: '#111',
          callback: v => { const k = xTickValues.indexOf(v); return k >= 0 ? xTickLabels[k] : ''; }
        },
        title: { display: true, text: 'Energy (keV)', color: '#111', font: { size: 36 }, padding: { top: 0, bottom: 20 } }
      },
      yRes: {
        type: 'linear', position: 'left', stack: 'panels', stackWeight: 179,
        min: resMin, max: resMax,
        afterFit: s => { s.width = 173; },
        afterBuildTicks: s => { s.ticks = resTickValues.map(v => ({ value: v })); },
        border: { display: false },
        grid: {
          drawOnChartArea: false, drawTicks: true, tickLength: 12, tickWidth: 3,
          tickColor: c => (c.tick && resMajorTicks.includes(c.tick.value)) ? '#333' : 'rgba(0,0,0,0)'
        },
        ticks: {
          autoSkip: false, padding: 8, font: tickFont, color: '#111',
          callback: v => { const k = resMajorTicks.indexOf(v); return k >= 0 ? resMajorLabels[k] : ''; }
        },
        title: { display: true, text: '(data-model)/err', color: '#111', font: { size: 36 }, padding: { top: 26, bottom: 0 } }
      },
      y: {
        type: 'logarithmic', position: 'left', stack: 'panels', stackWeight: 711,
        min: yMin, max: yMax,
        afterFit: s => { s.width = 173; },
        afterBuildTicks: s => { s.ticks = yTickValues.map(v => ({ value: v })); },
        border: { display: false },
        grid: {
          drawOnChartArea: false, drawTicks: true, tickLength: 12, tickWidth: 3,
          tickColor: c => (c.tick && yMajorTicks.includes(c.tick.value)) ? '#333' : 'rgba(0,0,0,0)'
        },
        ticks: {
          autoSkip: false, padding: 8, font: tickFont, color: '#111',
          callback: v => { const k = yMajorTicks.indexOf(v); return k >= 0 ? yMajorLabels[k] : ''; }
        },
        title: { display: true, text: 'counts s⁻¹ keV⁻¹', color: '#111', font: { size: 36 }, padding: { top: 17, bottom: 0 } }
      }
    }
  },
  plugins: [framePlugin]
});
</script>
</body>
</html>
